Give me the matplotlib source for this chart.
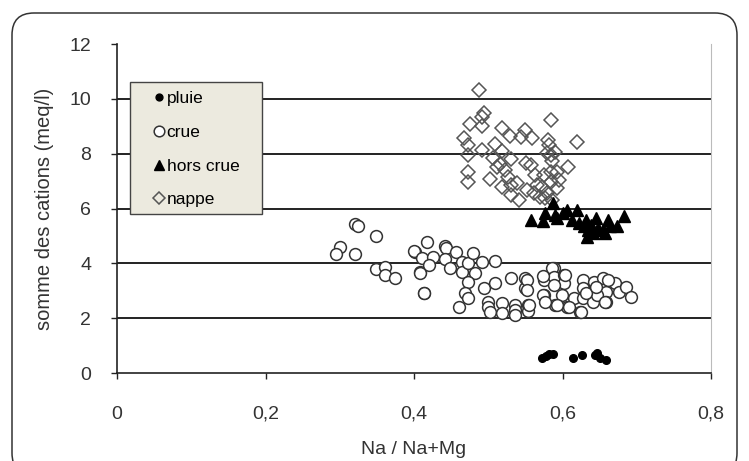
import numpy as np
import matplotlib
matplotlib.use("Agg")
import matplotlib.pyplot as plt
from matplotlib.patches import FancyBboxPatch, Rectangle
from matplotlib.transforms import IdentityTransform
from matplotlib.ticker import FuncFormatter

plt.rcParams['font.family'] = ['Liberation Sans', 'DejaVu Sans']

# Data
pluie_x = [0.573, 0.578, 0.582, 0.587, 0.614, 0.626, 0.644, 0.647, 0.650, 0.659]
pluie_y = [0.55, 0.62, 0.70, 0.70, 0.53, 0.66, 0.66, 0.72, 0.53, 0.47]

crue_x = [0.321, 0.325, 0.349, 0.301, 0.295, 0.321, 0.349, 0.361, 0.361, 0.375,
          0.402, 0.413, 0.408, 0.418, 0.400, 0.411, 0.426, 0.420, 0.408, 0.414,
          0.442, 0.443, 0.457, 0.442, 0.449, 0.465, 0.465, 0.473, 0.480, 0.482,
          0.491, 0.509, 0.473, 0.469, 0.473, 0.460, 0.494, 0.509, 0.500, 0.500,
          0.503, 0.518, 0.518, 0.530, 0.536, 0.536, 0.536, 0.550, 0.550, 0.554,
          0.554, 0.575, 0.575, 0.588, 0.590, 0.586, 0.588, 0.602, 0.602, 0.588,
          0.599, 0.606, 0.615, 0.624, 0.628, 0.628, 0.628, 0.642, 0.642, 0.641,
          0.655, 0.659, 0.659, 0.671, 0.676, 0.685, 0.692, 0.646, 0.552, 0.552,
          0.555, 0.574, 0.574, 0.577, 0.593, 0.603, 0.609, 0.625, 0.632, 0.645,
          0.661, 0.657]
crue_y = [5.43, 5.36, 5.01, 4.61, 4.34, 4.34, 3.78, 3.88, 3.57, 3.45,
          4.42, 2.91, 3.69, 4.79, 4.45, 4.21, 4.24, 3.94, 3.64, 2.91,
          4.64, 4.55, 4.42, 4.16, 3.82, 4.06, 3.69, 4.00, 4.36, 3.64,
          4.06, 4.08, 3.33, 2.91, 2.72, 2.42, 3.09, 3.27, 2.60, 2.42,
          2.24, 2.54, 2.18, 3.45, 2.48, 2.30, 2.12, 3.45, 3.09, 2.48,
          2.26, 3.39, 2.84, 3.82, 2.48, 3.82, 3.51, 3.57, 3.27, 3.21,
          2.84, 2.42, 2.72, 2.24, 3.39, 3.09, 2.72, 3.33, 3.03, 2.60,
          3.45, 2.97, 2.60, 3.27, 2.97, 3.15, 2.78, 2.84, 3.39, 3.03,
          2.48, 3.52, 2.84, 2.60, 2.48, 3.58, 2.42, 2.23, 2.91, 3.15,
          3.39, 2.60]

horscrue_x = [0.557, 0.574, 0.577, 0.587, 0.590, 0.600, 0.606, 0.619, 0.613, 0.622,
              0.629, 0.635, 0.641, 0.645, 0.648, 0.654, 0.661, 0.664, 0.674, 0.683,
              0.632, 0.638, 0.657, 0.593, 0.633]
horscrue_y = [5.59, 5.53, 5.84, 6.20, 5.78, 5.84, 5.96, 5.96, 5.59, 5.47,
              5.35, 5.23, 5.10, 5.65, 5.29, 5.23, 5.59, 5.35, 5.35, 5.71,
              5.59, 5.41, 5.10, 5.64, 4.97]

nappe_x = [0.488, 0.494, 0.491, 0.476, 0.491, 0.518, 0.529, 0.549, 0.544, 0.559,
           0.585, 0.467, 0.473, 0.473, 0.492, 0.509, 0.518, 0.507, 0.530, 0.516,
           0.512, 0.523, 0.473, 0.473, 0.503, 0.518, 0.527, 0.530, 0.539, 0.530,
           0.541, 0.552, 0.551, 0.558, 0.563, 0.562, 0.575, 0.572, 0.570, 0.581,
           0.582, 0.579, 0.584, 0.590, 0.586, 0.584, 0.593, 0.595, 0.584, 0.593,
           0.608, 0.619, 0.579, 0.577, 0.586, 0.566]
nappe_y = [10.32, 9.47, 9.35, 9.07, 9.02, 8.92, 8.65, 8.86, 8.62, 8.56,
           9.23, 8.56, 8.31, 7.95, 8.13, 8.34, 8.10, 7.83, 7.80, 7.61,
           7.52, 7.40, 7.34, 6.95, 7.07, 6.79, 7.16, 6.86, 6.92, 6.49,
           6.31, 6.67, 7.65, 7.59, 7.22, 6.55, 7.22, 6.79, 6.43, 8.50,
           8.31, 8.01, 7.95, 8.07, 7.73, 7.34, 7.34, 7.04, 6.98, 6.74,
           7.52, 8.41, 6.55, 6.37, 6.31, 6.86]

x_ticks = [0, 0.2, 0.4, 0.6, 0.8]
y_ticks = [0, 2, 4, 6, 8, 10, 12]

fig = plt.figure(figsize=(7.49, 4.61), dpi=100)
fig.patch.set_facecolor('white')

# rounded chart frame (Excel style), bottom runs off the picture
# drawn in pixel coordinates so the corners stay round
frame = FancyBboxPatch((12, -14), 725, 461 - 13 + 14,
                       boxstyle="round,pad=0,rounding_size=22",
                       transform=IdentityTransform(), facecolor='none',
                       edgecolor='#333333', linewidth=1.1, zorder=-1)
fig.patches.append(frame)

ax = fig.add_axes([117 / 749, 1 - 373 / 461, 594 / 749, 329 / 461])
ax.set_facecolor('none')

ax.plot(crue_x, crue_y, 'o', ms=8.5, mfc='white', mec='#333333', mew=1.1,
        label='crue', zorder=3)
ax.plot(nappe_x, nappe_y, 'D', ms=7, mfc='none', mec='#555555', mew=1.1,
        label='nappe', zorder=4)
ax.plot(horscrue_x, horscrue_y, '^', ms=8, mfc='black', mec='black',
        label='hors crue', zorder=5)
ax.plot(pluie_x, pluie_y, 'o', ms=5.5, mfc='black', mec='black',
        label='pluie', zorder=5)

ax.set_xlim(0, 0.8)
ax.set_ylim(0, 12)
ax.set_xticks(x_ticks)
ax.set_yticks(y_ticks)
ax.xaxis.set_major_formatter(FuncFormatter(lambda v, p: ('%g' % v).replace('.', ',')))

for yv in y_ticks[1:-1]:
    ax.axhline(yv, color='#222222', lw=1.4, zorder=1)

ax.spines['top'].set_visible(False)
ax.spines['right'].set_color('#bbbbbb')
ax.spines['right'].set_linewidth(0.8)
ax.spines['left'].set_color('#222222')
ax.spines['bottom'].set_color('#222222')
ax.spines['left'].set_linewidth(1.2)
ax.spines['bottom'].set_linewidth(1.2)

ax.tick_params(axis='both', direction='out', length=4.5, width=1.0,
               color='#222222', labelsize=14, labelcolor='#333333')
ax.tick_params(axis='x', pad=19)
ax.tick_params(axis='y', pad=14)

ax.set_xlabel('Na / Na+Mg', fontsize=14, color='#333333', labelpad=13)
ax.set_ylabel('somme des cations (meq/l)', fontsize=14.5, color='#333333',
              labelpad=11)

# legend box
box = Rectangle((13 / 594, 159 / 329), 132 / 594, 132 / 329,
                transform=ax.transAxes, facecolor='#eceadf',
                edgecolor='#444444', lw=1.0, zorder=6)
ax.add_patch(box)
h, l = ax.get_legend_handles_labels()
order = [3, 0, 2, 1]
leg = ax.legend([h[i] for i in order], [l[i] for i in order],
                loc='upper left', bbox_to_anchor=(0.063, 0.857),
                frameon=False, fontsize=12.5, handlelength=0.5,
                handletextpad=0.2, labelspacing=1.07, markerscale=0.9,
                borderpad=0, borderaxespad=0)
leg.set_zorder(7)

fig.savefig('out.png', dpi=100)
